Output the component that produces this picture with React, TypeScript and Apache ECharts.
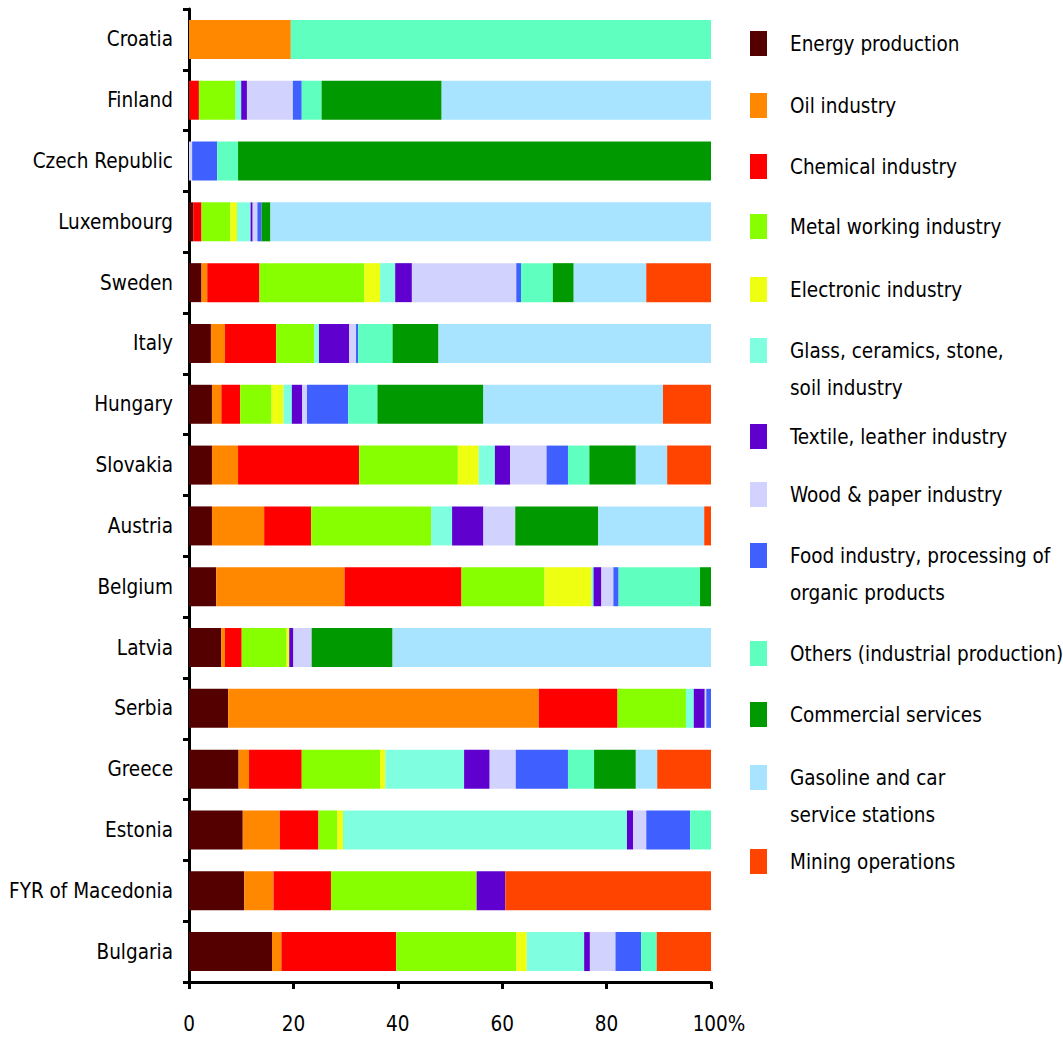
import React, { useEffect, useRef } from "react";
import * as echarts from "echarts";

const countries = [
  "Croatia", "Finland", "Czech Republic", "Luxembourg", "Sweden", "Italy", "Hungary",
  "Slovakia", "Austria", "Belgium", "Latvia", "Serbia", "Greece", "Estonia",
  "FYR of Macedonia", "Bulgaria",
];

const seriesNames = [
  "Energy production",
  "Oil industry",
  "Chemical industry",
  "Metal working industry",
  "Electronic industry",
  "Glass, ceramics, stone, soil industry",
  "Textile, leather industry",
  "Wood & paper industry",
  "Food industry, processing of organic products",
  "Others (industrial production)",
  "Commercial services",
  "Gasoline and car service stations",
  "Mining operations",
];

const legendLabels = [
  "Energy production",
  "Oil industry",
  "Chemical industry",
  "Metal working industry",
  "Electronic industry",
  "Glass, ceramics, stone,\nsoil industry",
  "Textile, leather industry",
  "Wood & paper industry",
  "Food industry, processing of\norganic products",
  "Others (industrial production)",
  "Commercial services",
  "Gasoline and car\nservice stations",
  "Mining operations",
];

const colors = [
  "#550000", "#ff8800", "#ff0000", "#88ff00", "#eeff11", "#7fffdf", "#5f00cf",
  "#d2d2ff", "#3f60ff", "#5fffbf", "#009900", "#a8e4ff", "#ff4400",
];

// values in % per country (order as in countries)
const energy = [0, 0, 0, 0.8, 2.4, 4.2, 4.4, 4.4, 4.4, 5.2, 6.2, 7.5, 9.5, 10.3, 10.6, 15.9];
const oil = [19.5, 0, 0, 0, 1.1, 2.7, 1.8, 5.0, 10.0, 24.6, 0.7, 59.5, 2.0, 7.1, 5.6, 1.8];
const chemical = [0, 1.9, 0, 1.6, 10.0, 9.8, 3.6, 23.2, 9.0, 22.4, 3.2, 15.1, 10.1, 7.4, 11.0, 22.0];
const metal = [0, 7.0, 0, 5.5, 20.1, 7.3, 6.0, 18.9, 23.0, 15.9, 8.6, 13.1, 15.0, 3.6, 27.9, 23.0];
const electronic = [0, 0, 0, 1.3, 3.0, 0, 2.3, 4.0, 0, 9.0, 0.5, 0, 1.0, 1.1, 0, 2.0];
const glass = [0, 1.1, 0, 2.6, 2.9, 0.9, 1.6, 3.1, 4.0, 0.4, 0, 1.5, 15.1, 54.4, 0, 11.0];
const textile = [0, 1.1, 0, 0.4, 3.2, 5.8, 2.0, 2.9, 6.0, 1.5, 0.8, 2.1, 4.9, 1.2, 5.5, 1.1];
const wood = [0, 8.8, 0.6, 0.9, 20.0, 1.3, 0.9, 7.0, 6.1, 2.3, 3.5, 0.3, 5.0, 2.5, 0, 4.9];
const food = [0, 1.7, 4.8, 0.8, 0.9, 0.4, 7.9, 4.1, 0, 1.0, 0, 0.9, 10.0, 8.4, 0, 4.9];
const others = [80.5, 3.8, 4.0, 0, 6.1, 6.6, 5.6, 4.1, 0, 15.6, 0, 0, 5.0, 4.0, 0, 3.0];
const commercial = [0, 23.0, 90.6, 1.7, 4.0, 8.8, 20.3, 8.9, 15.9, 2.1, 15.5, 0, 8.0, 0, 0, 0];
const gasoline = [0, 51.6, 0, 84.4, 13.9, 52.2, 34.4, 6.0, 20.3, 0, 61.0, 0, 4.1, 0, 0, 0];
const mining = [0, 0, 0, 0, 12.4, 0, 9.2, 8.4, 1.3, 0, 0, 0, 10.3, 0, 39.4, 10.4];

const seriesValues = [
  energy, oil, chemical, metal, electronic, glass, textile, wood, food, others,
  commercial, gasoline, mining,
];

const xTicks = [0, 20, 40, 60, 80, 100];

// legend square top positions (px)
const legendTops = [31, 93, 154, 214, 277, 338, 424, 482, 543, 641, 702, 765, 849];

const FONT = "'DejaVu Sans Condensed', 'DejaVu Sans', sans-serif";
const FS = 20.5;
const LINE2 = 37;

export default function App() {
  const ref = useRef<HTMLDivElement>(null);

  useEffect(() => {
    if (!ref.current) return;
    const chart = echarts.init(ref.current, undefined, { renderer: "svg" });

    const legends = seriesNames.map((name, i) => {
      const twoLine = legendLabels[i].includes("\n");
      const h = twoLine ? 25 + LINE2 : 25;
      return {
        show: true,
        orient: "vertical",
        left: 750,
        top: twoLine ? legendTops[i] - 6 : legendTops[i],
        padding: 0,
        itemWidth: 17,
        itemHeight: h,
        selectedMode: false,
        icon: twoLine
          ? "path://M0,0H17V25H0Z M0," + h + "H0.01V" + (h + 0.01) + "H0Z"
          : "rect",
        data: [name],
        formatter: () => legendLabels[i],
        textStyle: {
          fontFamily: FONT,
          fontSize: FS,
          color: "#000",
          lineHeight: twoLine ? LINE2 : 25,
          padding: [0, 0, 0, 18],
        },
      };
    });

    const option: any = {
      animation: false,
      backgroundColor: "#fff",
      textStyle: { fontFamily: FONT },
      legend: legends,
      grid: {
        left: 189,
        right: 352,
        top: 9,
        bottom: 57,
        containLabel: false,
        outerBoundsMode: "none",
      },
      xAxis: {
        type: "value",
        min: 0,
        max: 100,
        interval: 20,
        axisLine: { show: true, lineStyle: { color: "#000", width: 3 } },
        axisTick: { show: true, length: 7, lineStyle: { color: "#000", width: 3 } },
        splitLine: { show: false },
        axisLabel: {
          color: "#000",
          fontFamily: FONT,
          fontSize: FS,
          margin: 31,
          formatter: (v: number) => (v === 100 ? "{p|" + xTicks[5] + "%}" : String(v)),
          rich: {
            p: { fontFamily: FONT, fontSize: FS, color: "#000", padding: [0, 0, 0, 16] },
          },
        },
      },
      yAxis: {
        type: "category",
        inverse: true,
        data: countries,
        axisLine: { show: true, lineStyle: { color: "#000", width: 3 } },
        axisTick: { show: true, length: 6, lineStyle: { color: "#000", width: 3 } },
        axisLabel: { color: "#000", fontFamily: FONT, fontSize: FS, margin: 16 },
        splitLine: { show: false },
      },
      series: seriesNames.map((name, i) => ({
        name,
        type: "bar",
        stack: "total",
        barWidth: 39,
        data: seriesValues[i],
        itemStyle: { color: colors[i], borderWidth: 0 },
        emphasis: { disabled: true },
      })),
    };

    chart.setOption(option);
    return () => chart.dispose();
  }, []);

  return (
    <div
      ref={ref}
      style={{ position: "absolute", left: 0, top: 0, width: 1063, height: 1039 }}
    />
  );
}
